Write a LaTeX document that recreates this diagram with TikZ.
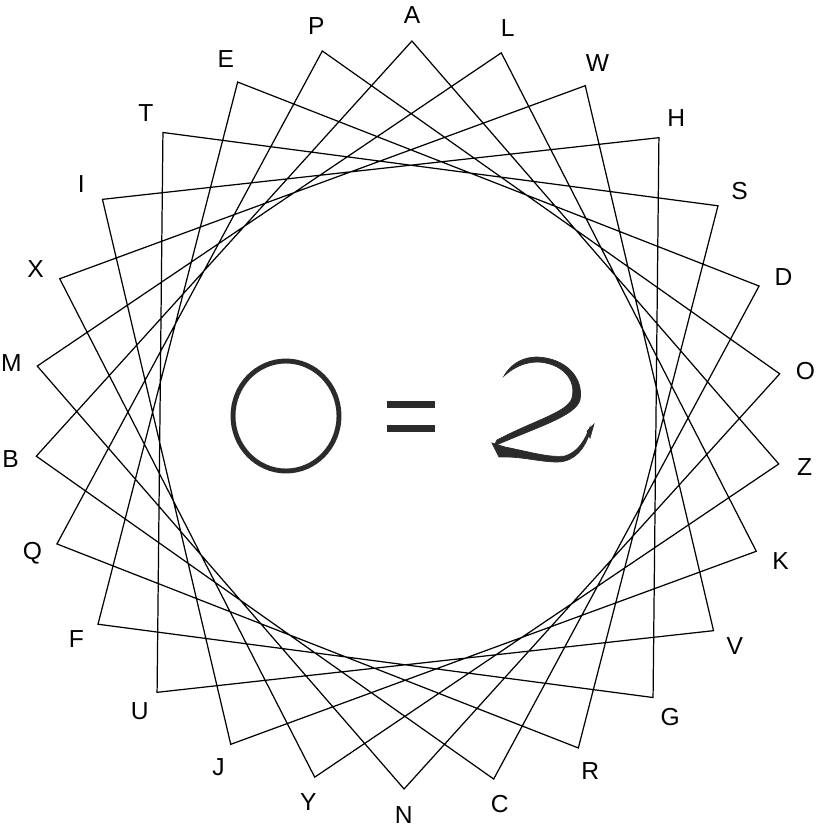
\documentclass[tikz,border=0pt]{standalone}
\usepackage{fontspec}
\setmainfont{Liberation Sans}
\usetikzlibrary{calc}
\definecolor{inkgray}{HTML}{2B2B2B}

\begin{document}
\begin{tikzpicture}[x=0.02cm, y=-0.02cm,
    starline/.style={black, line width=0.7pt, line join=miter},
    letter/.style={font=\fontsize{14}{16}\selectfont, inner sep=0pt},
    ring/.style={inkgray, line width=2.8pt}]
  \useasboundingbox (0,0) rectangle (822,835);
  \coordinate (ctr) at (408,415);
  % Ecken und Buchstaben
  \foreach \ltr [count=\i from 0] in {A,L,W,H,S,D,O,Z,K,V,G,R,C,N,Y,J,U,F,Q,B,M,X,I,T,E,P} {
    \pgfmathsetmacro{\a}{\i*360/26+0.6}
    \coordinate (p\i) at ($(ctr)+({374*sin(\a)},{-374*cos(\a)})$);
    \node[letter] (\ltr) at ($(ctr)+({400*sin(\a)},{-400*cos(\a)})$) {\ltr};
  }
  % Stern {26/7}
  \draw[starline] (p0)
    \foreach \k [evaluate=\k as \j using {int(mod(7*\k,26))}] in {1,...,25} { -- (p\j) }
    -- cycle;
  % O
  \draw[ring] (286,416) ellipse [x radius=53, y radius=55];
  % =
  \fill[inkgray] (387,401) rectangle (435,408);
  \fill[inkgray] (387,425) rectangle (435,432);
  % 2
  \filldraw[inkgray, line width=0.4pt] (504,376) .. controls (512,362) and (525,357) .. (537,357)
    .. controls (566,358) and (584,378) .. (580,400)
    .. controls (575,416) and (540,426) .. (494,446)
    -- (497,440) .. controls (535,420) and (568,412) .. (572,398)
    .. controls (577,378) and (560,363) .. (538,362)
    .. controls (525,362) and (514,367) .. (504,376) -- cycle;
  \filldraw[inkgray, line width=0.4pt] (492,443) -- (505,447)
    .. controls (530,452) and (550,458) .. (565,456)
    .. controls (578,452) and (585,440) .. (590,427)
    -- (590,432) .. controls (585,448) and (575,462) .. (557,462)
    .. controls (540,462) and (520,456) .. (499,457) -- cycle;
  \filldraw[inkgray, line width=0.4pt] (587,431) -- (594,424) -- (590,438) -- cycle;
\end{tikzpicture}
\end{document}
